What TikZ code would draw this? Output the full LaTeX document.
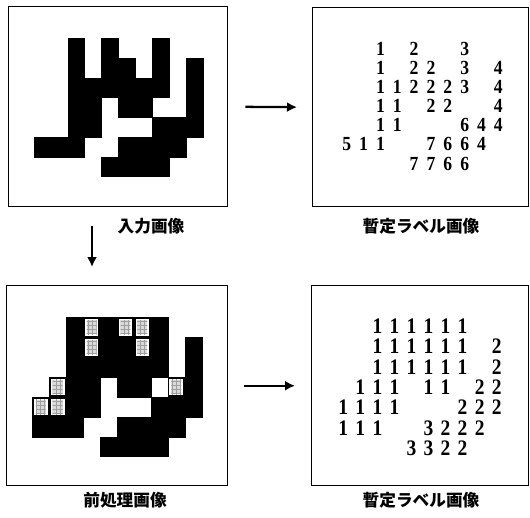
\documentclass[tikz,border=0pt]{standalone}
\usepackage{fontspec}
\setmainfont{Liberation Serif}
\newfontfamily\jpfont{Noto Sans CJK JP}
\usetikzlibrary{arrows.meta,patterns}
\begin{document}
\begin{tikzpicture}[x=0.75pt,y=-0.75pt,
  frame/.style={draw,line width=1.1pt,anchor=north west,inner sep=0pt},
  captext/.style={font=\jpfont\fontsize{12.5}{14}\selectfont\bfseries,inner sep=0pt},
  arr/.style={line width=1.7pt,-{Latex[length=7.5pt,width=7.5pt]}},
  digA/.style={font=\fontsize{15}{16}\selectfont\bfseries,inner sep=0pt,xscale=0.88},
  digB/.style={font=\fontsize{16.6}{18}\selectfont\bfseries,inner sep=0pt,xscale=0.88},
  cell/.style={fill=black,draw=black,line width=0.3pt},
  ]
\useasboundingbox (0,0) rectangle (530,517);

% frames
\node[frame,minimum width=219*0.75pt,minimum height=200*0.75pt] (tl) at (8,6) {};
\node[frame,minimum width=216*0.75pt,minimum height=199*0.75pt] (tr) at (312,7) {};
\node[frame,minimum width=221*0.75pt,minimum height=200*0.75pt] (bl) at (6,285) {};
\node[frame,minimum width=217*0.75pt,minimum height=200*0.75pt] (br) at (311,285) {};

% input image
\foreach \r/\cols in {0/{2,4,7},1/{2,4,5,7,9},2/{2,3,4,5,6,7,9},3/{2,3,5,6,9},4/{2,3,7,8,9},5/{0,1,2,5,6,7,8},6/{4,5,6,7}}
  \foreach \c in \cols
    \path[cell] (34+16.87*\c,38.3+19.76*\r) rectangle ++(16.87,19.76);

% preprocessed image
\foreach \r/\cols in {0/{2,4,7},1/{2,4,5,7,9},2/{2,3,4,5,6,7,9},3/{2,3,5,6,9},4/{2,3,7,8,9},5/{0,1,2,5,6,7,8},6/{4,5,6,7}}
  \foreach \c in \cols
    \path[cell] (32.3+16.94*\c,317.3+19.9*\r) rectangle ++(16.94,19.9);
\foreach \r/\cols in {0/{3,5,6},1/{3,6},3/{1,8},4/{0,1}}
  \foreach \c in \cols {
    \path[cell] (32.3+16.94*\c,317.3+19.9*\r) rectangle ++(16.94,19.9);
    \fill[white] (32.3+16.94*\c+1.6,317.3+19.9*\r+1.6) rectangle ++(16.94-3.2,19.9-3.2);
    \fill[gray!30] (32.3+16.94*\c+3.5,317.3+19.9*\r+2.8) rectangle ++(16.94-7,19.9-5.6);
    \fill[pattern=grid,pattern color=gray!75] (32.3+16.94*\c+3.5,317.3+19.9*\r+2.8) rectangle ++(16.94-7,19.9-5.6);
  }

% tentative labels (top)
\foreach \r/\items in {0/{2/1,4/2,7/3},1/{2/1,4/2,5/2,7/3,9/4},2/{2/1,3/1,4/2,5/2,6/2,7/3,9/4},3/{2/1,3/1,5/2,6/2,9/4},4/{2/1,3/1,7/6,8/4,9/4},5/{0/5,1/1,2/1,5/7,6/6,7/6,8/4},6/{4/7,5/7,6/6,7/6}}
  \foreach \c/\d in \items
    \node[digA] (ta\r-\c) at (346.7+16.85*\c,48.5+19.17*\r) {\d};

% tentative labels (bottom)
\foreach \r/\items in {0/{2/1,3/1,4/1,5/1,6/1,7/1},1/{2/1,3/1,4/1,5/1,6/1,7/1,9/2},2/{2/1,3/1,4/1,5/1,6/1,7/1,9/2},3/{1/1,2/1,3/1,5/1,6/1,8/2,9/2},4/{0/1,1/1,2/1,3/1,7/2,8/2,9/2},5/{0/1,1/1,2/1,5/3,6/2,7/2,8/2},6/{4/3,5/3,6/2,7/2}}
  \foreach \c/\d in \items
    \node[digB] (tb\r-\c) at (343.3+17.04*\c,326+20.4*\r) {\d};

% captions
\node[captext] (c1) at (151,226) {入力画像};
\node[captext] (c2) at (421,226) {暫定ラベル画像};
\node[captext] (c3) at (125,500) {前処理画像};
\node[captext] (c4) at (421,500) {暫定ラベル画像};

% arrows
\draw[arr,shorten <=12.75pt,shorten >=11.25pt] (tl.east) -- (tr.west);
\draw[arr,shorten <=12pt,shorten >=12pt] (bl.east) -- (br.west);
\coordinate (d1) at (92,226);
\coordinate (d2) at (92,267);
\draw[arr] (d1) -- (d2);
\end{tikzpicture}
\end{document}
